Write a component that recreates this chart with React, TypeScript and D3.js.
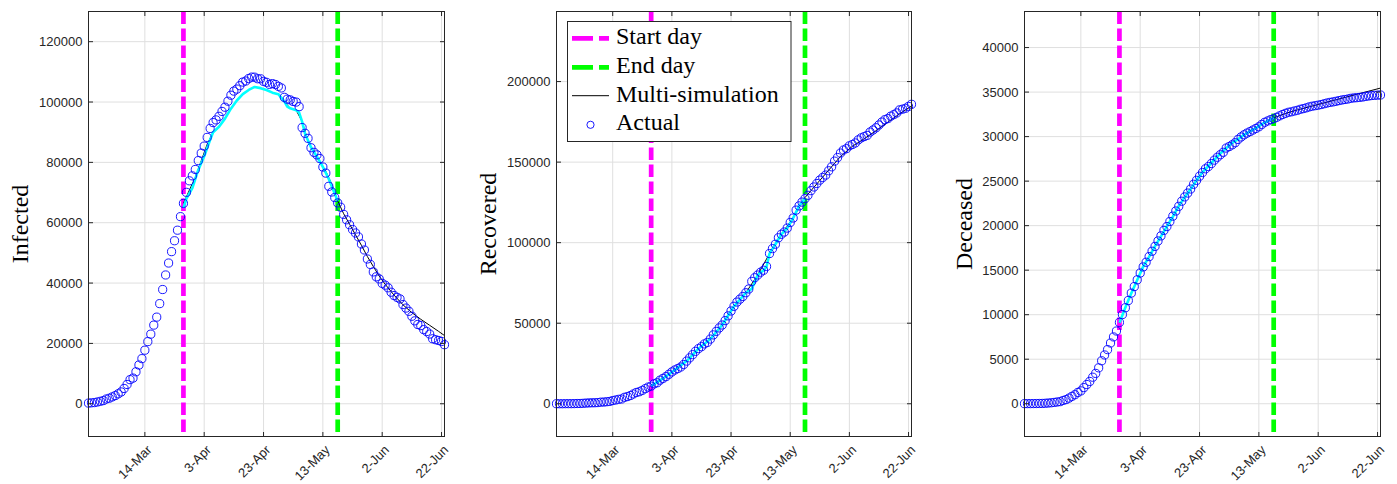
import React from 'react';
import * as d3 from 'd3';

// ---- data (Italy, 24-Feb-2020 .. 23-Jun-2020, one value per day) ----
const firstDate = '24-Feb-2020';
const infected = [
  221, 311, 385, 588, 821, 1049,
  1577, 1835, 2263, 2706, 3296, 3916, 5061, 6387, 7985, 8514, 10590, 12839, 14955, 17750, 20603, 23073,
  26062, 28710, 33190, 37860, 42681, 46638, 50418, 54030, 57521, 62013, 66414, 70065, 73880, 75528, 77635,
  80572, 83049, 85388, 88274, 91246, 93187, 94067, 95262, 96877, 98273, 100269, 102253, 103616, 104291, 105418,
  106607, 106962, 107771, 108257, 108237, 107709, 107699, 106848, 106527, 105847, 106103, 105813, 105205, 104657, 101551,
  100943, 100704, 100179, 99980, 98467, 91528, 89624, 87961, 84842, 83324, 82488, 81266, 78457, 76440, 72070, 70187,
  68351, 66553, 65129, 62752, 60960, 59322, 57752, 56594, 55300, 52942, 50966, 47986, 46175, 43691, 42075,
  41367, 39893, 39297, 38429, 36976, 35877, 35262, 34730, 32872, 31710, 30637, 28997, 27485, 26274, 25909, 24569,
  23925, 23101, 21543, 21212, 20972, 20637, 19573,
];
const recovered = [
  1, 1, 3, 45, 46, 50,
  83, 149, 160, 276, 414, 523, 589, 622, 724, 1004, 1045, 1258, 1439, 1966, 2335, 2749, 2941, 4025, 4440, 5129,
  6072, 7024, 7432, 8326, 9362, 10361, 10950, 12384, 13030, 14620, 15729,
  16847, 18278, 19758, 20996, 21815, 22837, 24392, 26491, 28470, 30455, 32534, 34211, 35435, 37130, 38092, 40164,
  42727, 44927, 47055, 48877, 51600, 54543, 57576, 60498, 63120, 64928, 66624, 68941, 71252, 75945,
  78249, 79914, 81654, 82879, 85231, 93245, 96276, 99023, 103031, 105186, 106587, 109039, 112541, 115288, 120205,
  122810, 125176, 127326, 129401, 132282, 134560, 136720, 138840, 140479, 141981, 144658, 147101, 150604, 152844,
  155633, 157507,
  158355, 160092, 160938, 161895, 163781, 165078, 165837, 166584, 168646, 169939, 171338, 173085, 174865, 176370,
  177010, 178526, 179455, 180544, 182453, 182893, 183426, 184585, 185894,
];
const deceased = [
  7, 10, 12, 17, 21, 29,
  34, 52, 79, 107, 148, 197, 233, 366, 463, 631, 827, 1016, 1266, 1441, 1809, 2158, 2503, 2978, 3405, 4032, 4825,
  5476, 6077, 6820, 7503, 8165, 9134, 10023, 10779, 11591, 12428,
  13155, 13915, 14681, 15362, 15887, 16523, 17127, 17669, 18279, 18849, 19468, 19899, 20465, 21067, 21645, 22170,
  22745, 23227, 23660, 24114, 24648, 25085, 25549, 25969, 26384, 26644, 26977, 27359, 27682, 27967,
  28236, 28710, 28884, 29079, 29315, 29684, 29958, 30201, 30395, 30560, 30739, 30911, 31106, 31368, 31610, 31763,
  31908, 32007, 32169, 32330, 32486, 32616, 32735, 32785, 32877, 32955, 33072, 33142, 33229, 33340, 33415,
  33475, 33530, 33601, 33689, 33774, 33846, 33899, 33964, 34043, 34114, 34167, 34223, 34301, 34345, 34371, 34405,
  34448, 34514, 34561, 34610, 34634, 34657, 34675,
];

// fitted window (cyan) — day offsets from first date
const infectedFitDays = [32, 33, 35, 37, 39, 41, 42, 44, 46, 48, 50, 52, 54, 56, 58, 60, 62, 64, 66, 67, 68, 70, 71, 72, 73, 75, 77, 79, 81, 84];
const infectedFitValues = [64800, 68000, 71500, 77500, 82000, 87500, 90000, 91800, 94500, 97800, 100500, 102600, 104000, 105000, 104600, 104000, 103100, 102600, 100200, 98500, 97900, 97300, 96500, 93500, 89500, 85000, 81900, 78500, 74500, 67200];
const recoveredFitDays = [32, 36, 40, 44, 48, 52, 56, 60, 64, 66, 68, 70, 71, 72, 74, 76, 78, 80, 82, 84];
const recoveredFitValues = [11000, 15700, 21000, 26500, 34200, 40200, 48900, 60500, 68900, 71300, 79900, 82900, 85000, 93200, 99000, 105200, 109000, 115300, 122800, 127300];
const deceasedFitDays = [32, 34, 36, 38, 40, 42, 44, 46, 48, 50, 52, 54, 56, 58, 60, 62, 64, 66, 68, 70, 72, 74, 76, 78, 80, 82, 84];
const deceasedFitValues = [9100, 10800, 12400, 13900, 15400, 16500, 17700, 18800, 19900, 21000, 22200, 23200, 24100, 25100, 26000, 26700, 27400, 28100, 28700, 29300, 29700, 30200, 30600, 30950, 31400, 31750, 32100];

// multi-simulation (black)
const infectedSimDays = [32, 34, 36, 38, 40, 42, 44, 46, 48, 50, 52, 54, 56, 58, 60, 62, 64, 66, 68, 70, 72, 74, 76, 78, 80, 82, 84, 86, 88, 90, 92, 94, 96, 98, 100, 103, 106, 109, 112, 115, 118, 120];
const infectedSimValues = [66400, 70800, 75000, 80500, 86000, 90000, 91800, 94500, 97800, 100500, 102600, 104000, 105000, 104600, 104000, 103100, 102600, 100200, 97900, 97300, 93500, 87000, 83500, 80200, 77000, 72800, 67200, 63000, 59500, 56000, 52500, 48800, 45500, 42300, 39600, 36000, 32800, 30200, 28000, 26000, 24000, 22600];
const recoveredSimDays = [32, 36, 40, 44, 48, 52, 56, 60, 64, 68, 72, 76, 80, 84, 88, 92, 96, 100, 104, 108, 112, 116, 120];
const recoveredSimValues = [11000, 15700, 21000, 26500, 34200, 40200, 48900, 60500, 68900, 79900, 93200, 105200, 115300, 128000, 136500, 145000, 153500, 159800, 164500, 169500, 174800, 180000, 184800];
const deceasedSimDays = [32, 36, 40, 44, 48, 52, 56, 60, 64, 68, 72, 76, 80, 84, 88, 92, 96, 100, 104, 108, 112, 116, 120];
const deceasedSimValues = [9100, 12400, 15400, 17700, 19900, 22200, 24100, 26000, 27400, 28700, 29700, 30600, 31400, 32100, 32600, 33000, 33350, 33700, 34050, 34400, 34750, 35100, 35450];

const tickLabels = ['14-Mar', '3-Apr', '23-Apr', '13-May', '2-Jun', '22-Jun'];
const startDayLabel = '27-Mar';
const endDayLabel = '18-May';
const lastDateLabel = '23-Jun';
const legendLabels = ['Start day', 'End day', 'Multi-simulation', 'Actual'];

const parse = d3.utcParse('%d-%b-%Y');
const toDate = (s: string) => parse(s + '-2020') as Date;
const t0 = parse(firstDate) as Date;
const dayToDate = (d: number) => d3.utcDay.offset(t0, d);

const AX = '#262626';
const GRID = '#dfdfdf';
const SANS = '"Liberation Sans", Arial, Helvetica, sans-serif';
const SERIF = '"Liberation Serif", "Times New Roman", serif';

type Panel = {
  label: string;
  values: number[];
  fitD: number[]; fitV: number[];
  simD: number[]; simV: number[];
  yDomain: [number, number];
  yTicks: number[];
  x0: number; x1: number;
  labelX: number;
  legend?: boolean;
};

const panels: Panel[] = [
  { label: 'Infected', values: infected, fitD: infectedFitDays, fitV: infectedFitValues, simD: infectedSimDays, simV: infectedSimValues,
    yDomain: [-10850, 130000], yTicks: d3.range(0, 120001, 20000), x0: 88.5, x1: 444.5, labelX: 28.3 },
  { label: 'Recovered', values: recovered, fitD: recoveredFitDays, fitV: recoveredFitValues, simD: recoveredSimDays, simV: recoveredSimValues,
    yDomain: [-20330, 243500], yTicks: d3.range(0, 200001, 50000), x0: 556.5, x1: 911.5, labelX: 496, legend: true },
  { label: 'Deceased', values: deceased, fitD: deceasedFitDays, fitV: deceasedFitValues, simD: deceasedSimDays, simV: deceasedSimValues,
    yDomain: [-3680, 44050], yTicks: d3.range(0, 40001, 5000), x0: 1024.5, x1: 1380.5, labelX: 971.7 },
];

const TOP = 11.5;
const BOTTOM = 436.5;
const TL = 4.5;

function PanelView({ p }: { p: Panel }) {
  const x = d3.scaleUtc().domain([t0, toDate(lastDateLabel)]).range([p.x0, p.x1]);
  const y = d3.scaleLinear().domain(p.yDomain).range([BOTTOM, TOP]);
  const xt = tickLabels.map(toDate);
  const line = d3.line<[number, number]>().x(d => x(dayToDate(d[0]))).y(d => y(d[1]));
  const fitPts: [number, number][] = p.fitD.map((d, i) => [d, p.fitV[i]]);
  const simPts: [number, number][] = p.simD.map((d, i) => [d, p.simV[i]]);
  const sx = x(toDate(startDayLabel));
  const ex = x(toDate(endDayLabel));
  const cy = (TOP + BOTTOM) / 2;
  return (
    <g>
      {/* grid */}
      {xt.map((d, i) => (
        <line key={'gx' + i} x1={x(d)} x2={x(d)} y1={TOP} y2={BOTTOM} stroke={GRID} strokeWidth={1} />
      ))}
      {p.yTicks.map((v, i) => (
        <line key={'gy' + i} x1={p.x0} x2={p.x1} y1={y(v)} y2={y(v)} stroke={GRID} strokeWidth={1} />
      ))}
      {/* start / end day */}
      <line x1={sx} x2={sx} y1={TOP} y2={BOTTOM} stroke="#ff00ff" strokeWidth={4.7} strokeDasharray="12.5 4.5" />
      <line x1={ex} x2={ex} y1={TOP} y2={BOTTOM} stroke="#00ff00" strokeWidth={4.7} strokeDasharray="12.5 4.5" />
      {/* simulations */}
      <path d={line(simPts) || ''} fill="none" stroke="#000" strokeWidth={1} />
      <path d={line(fitPts) || ''} fill="none" stroke="#00ffff" strokeWidth={2.6} strokeLinejoin="round" />
      {/* actual */}
      {p.values.map((v, i) => (
        <circle key={'c' + i} cx={x(dayToDate(i))} cy={y(v)} r={4.1} fill="none" stroke="#0000ff" strokeWidth={0.9} />
      ))}
      {/* box */}
      <rect x={p.x0} y={TOP} width={p.x1 - p.x0} height={BOTTOM - TOP} fill="none" stroke={AX} strokeWidth={1} />
      {/* ticks */}
      {xt.map((d, i) => (
        <g key={'tx' + i}>
          <line x1={x(d)} x2={x(d)} y1={BOTTOM} y2={BOTTOM - TL} stroke={AX} />
          <line x1={x(d)} x2={x(d)} y1={TOP} y2={TOP + TL} stroke={AX} />
          <text transform={`translate(${x(d) + 4.5},${447.5}) rotate(-45)`} textAnchor="end" dominantBaseline="central"
            fontFamily={SANS} fontSize={13} fill={AX}>{tickLabels[i]}</text>
        </g>
      ))}
      {p.yTicks.map((v, i) => (
        <g key={'ty' + i}>
          <line x1={p.x0} x2={p.x0 + TL} y1={y(v)} y2={y(v)} stroke={AX} />
          <line x1={p.x1} x2={p.x1 - TL} y1={y(v)} y2={y(v)} stroke={AX} />
          <text x={p.x0 - 6} y={y(v)} textAnchor="end" dominantBaseline="central" fontFamily={SANS} fontSize={13} fill={AX}>{v}</text>
        </g>
      ))}
      <text transform={`translate(${p.labelX},${cy}) rotate(-90)`} textAnchor="middle" fontFamily={SERIF} fontSize={24} fill="#000">{p.label}</text>
      {p.legend && (
        <g>
          <rect x={567.5} y={21.5} width={223.5} height={120} fill="#fff" stroke={AX} strokeWidth={1} />
          <line x1={572} x2={609} y1={38.3} y2={38.3} stroke="#ff00ff" strokeWidth={4.7} strokeDasharray="21 6" />
          <line x1={572} x2={609} y1={67.3} y2={67.3} stroke="#00ff00" strokeWidth={4.7} strokeDasharray="21 6" />
          <line x1={572} x2={609} y1={95.7} y2={95.7} stroke="#000" strokeWidth={1} />
          <circle cx={590.5} cy={124.8} r={3.6} fill="none" stroke="#0000ff" strokeWidth={0.9} />
          {legendLabels.map((t, i) => (
            <text key={t} x={616} y={44.3 + i * 28.6} fontFamily={SERIF} fontSize={24} fill="#000">{t}</text>
          ))}
        </g>
      )}
    </g>
  );
}

export default function App() {
  return (
    <svg width={1397} height={484} style={{ position: 'absolute', left: 0, top: 0, background: '#fff' }}>
      <rect x={0} y={0} width={1397} height={484} fill="#fff" />
      {panels.map(p => <PanelView key={p.label} p={p} />)}
    </svg>
  );
}
